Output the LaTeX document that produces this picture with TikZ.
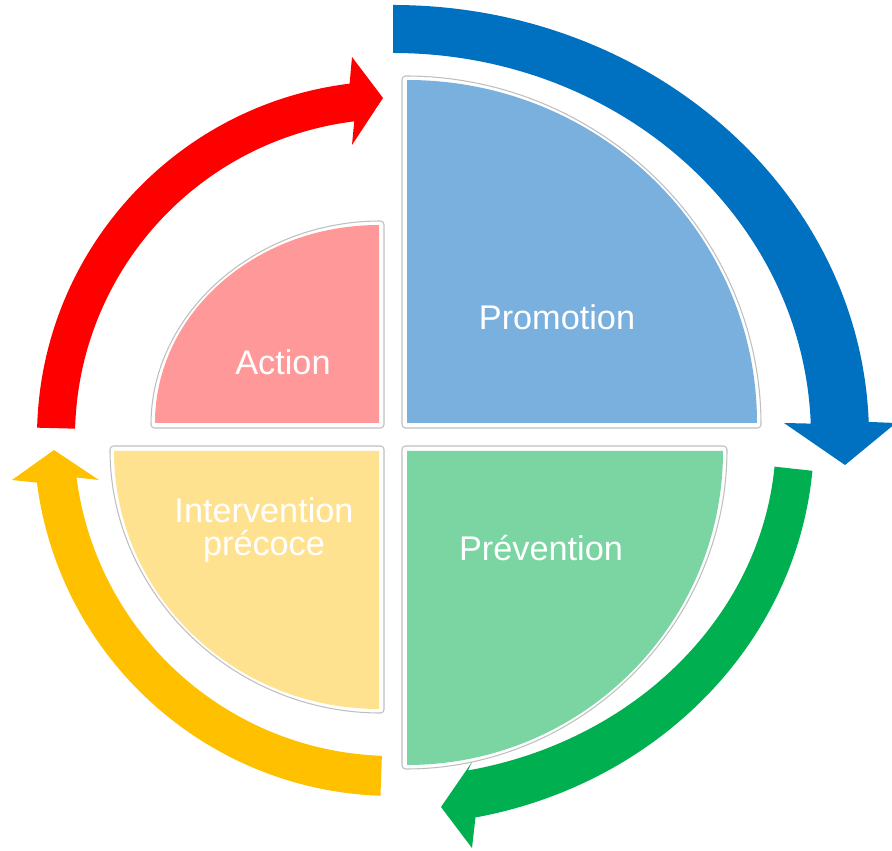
\documentclass[tikz,border=0pt]{standalone}
\usepackage{fontspec}
\setmainfont{Liberation Sans}
\usepackage{tikz}

\definecolor{promoblue}{RGB}{122,176,221}
\definecolor{actionred}{RGB}{255,153,153}
\definecolor{intyellow}{RGB}{255,226,143}
\definecolor{prevgreen}{RGB}{122,213,162}
\definecolor{arrowblue}{RGB}{0,112,192}
\definecolor{arrowred}{RGB}{255,0,0}
\definecolor{arrowyellow}{RGB}{255,192,0}
\definecolor{arrowgreen}{RGB}{0,176,80}

\begin{document}
\begin{tikzpicture}[x=0.02cm,y=0.02cm,
	frame/.style={fill=white,draw=black!25,line width=0.6pt,rounded corners=2pt},
	label text/.style={text=white,font=\fontsize{19.5}{18.7}\selectfont,align=center}]
	\useasboundingbox (-393,-414) rectangle (499,437);
	
	% quarter sectors
	\foreach \sx/\sy/\rx/\ry/\a/\col in {1/1/350/343/0/promoblue, -1/1/224/198/90/actionred, -1/-1/265/258/180/intyellow, 1/-1/316/314/270/prevgreen}
	{
	\pgfmathsetmacro\fx{\rx+9}
	\pgfmathsetmacro\fy{\ry+9}
	\draw[frame] (9*\sx,9*\sy) -- ++(\a:{\fx} and {\fy}) arc[start angle=\a,delta angle=90,x radius=\fx,y radius=\fy] -- cycle;
	\fill[\col] (14*\sx,14*\sy) -- ++(\a:{\rx} and {\ry}) arc[start angle=\a,delta angle=90,x radius=\rx,y radius=\ry] -- cycle;
	}
	
	% cycle arrows
	\fill[arrowblue] (0,432) arc[start angle=90,end angle=2,x radius=476,y radius=432]
		-- (503,14) -- (452,-28) -- (391,14)
		-- (2:418 and 384) arc[start angle=2,end angle=90,x radius=418,y radius=384] -- cycle;
	\fill[arrowgreen] (-5:421 and 388) arc[start angle=-5,end angle=-78.7,x radius=421,y radius=388]
		-- (79,-411) -- (48,-370) -- (79,-325)
		-- (-78.7:383 and 340) arc[start angle=-78.7,end angle=-5,x radius=383,y radius=340] -- cycle;
	\fill[arrowyellow] (268:359) arc[start angle=268,end angle=187.3,radius=359]
		-- (-381,-43) -- (-339,-13) -- (-294,-43)
		-- (187.3:319) arc[start angle=187.3,end angle=268,radius=319] -- cycle;
	\fill[arrowred] (178.5:356) arc[start angle=178.5,end angle=97,radius=356]
		-- (-41,380) -- (-10,339) -- (-41,292)
		-- (97:318) arc[start angle=97,end angle=178.5,radius=318] -- cycle;
	
	\node[label text] (promotion) at (164,120) {Promotion};
	\node[label text] (action) at (-110,75) {Action};
	\node[label text] (prevention) at (148,-111) {Prévention};
	\node[label text] (intervention) at (-129,-93) {Intervention\\précoce};
\end{tikzpicture}
\end{document}
